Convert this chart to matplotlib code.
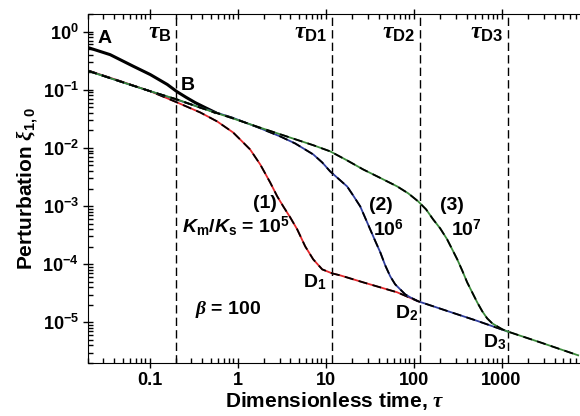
import numpy as np
import matplotlib
matplotlib.use('Agg')
import matplotlib.pyplot as plt
from matplotlib.ticker import LogLocator, FixedLocator, FixedFormatter, NullFormatter

plt.rcParams['font.family'] = ['Liberation Sans', 'DejaVu Sans']
plt.rcParams['font.weight'] = 'bold'
plt.rcParams['mathtext.fontset'] = 'custom'
plt.rcParams['mathtext.rm'] = 'Liberation Sans:bold'
plt.rcParams['mathtext.it'] = 'Liberation Serif:italic'
plt.rcParams['mathtext.bf'] = 'Liberation Sans:bold'
plt.rcParams['mathtext.sf'] = 'Liberation Sans:bold:italic'

# curve A (black, before tau_B)
tau_A = [0.02, 0.0357, 0.0653, 0.102, 0.159, 0.206, 0.26, 0.33, 0.42, 0.55]
xi_A = [0.53, 0.40, 0.253, 0.182, 0.123, 0.092, 0.074, 0.060, 0.050, 0.041]

# (1) Km/Ks = 1e5
tau1 = [0.02, 0.046, 0.102, 0.206, 0.377, 0.588, 0.89, 1.073, 1.39, 1.81, 2.35, 2.83,
        3.31, 3.97, 4.77, 5.88, 7.25, 9.17, 11.9, 14.7, 26.8, 65.3, 113]
xi1 = [0.214, 0.141, 0.094, 0.0603, 0.0406, 0.0284, 0.0184, 0.0139, 0.00939, 0.00519,
       0.00254, 0.00146, 0.000984, 0.000637, 0.000396, 0.000202, 0.000121, 8.14e-5,
       6.95e-5, 6.42e-5, 4.87e-5, 3.28e-5, 2.3e-5]

# (2) Km/Ks = 1e6
tau2 = [0.02, 0.046, 0.102, 0.206, 0.377, 0.89, 1.72, 3.06, 4.52, 7.25, 9.17, 11.3,
        17.6, 20.6, 24.8, 32.2, 36.7, 41.9, 47.7, 54.4, 61.9, 70.6, 80.4, 91.8, 113,
        241, 529, 1159]
xi2 = [0.212, 0.139, 0.094, 0.067, 0.0495, 0.0327, 0.0224, 0.0157, 0.0119, 0.00771,
       0.00561, 0.00393, 0.00217, 0.00152, 0.000984, 0.000396, 0.000251, 0.00016,
       9.53e-5, 6.17e-5, 4.5e-5, 3.69e-5, 3.03e-5, 2.69e-5, 2.3e-5, 1.57e-5, 1.06e-5, 7.0e-6]

# (3) Km/Ks = 1e7
tau3 = [0.02, 0.046, 0.102, 0.206, 0.377, 0.89, 1.72, 3.06, 7.25, 11.3, 17.6, 26.8,
        41.9, 65.3, 87.1, 113, 139, 167, 201, 241, 275, 314, 357, 407, 464, 529, 604,
        687, 784, 893, 1019, 1159, 2750, 7430]
xi3 = [0.21, 0.139, 0.094, 0.068, 0.049, 0.032, 0.0228, 0.0171, 0.0111, 0.0087, 0.00608,
       0.00425, 0.00304, 0.00217, 0.00165, 0.0012, 0.000874, 0.000589, 0.000412,
       0.000267, 0.00018, 0.000121, 7.82e-5, 4.87e-5, 3.28e-5, 2.21e-5, 1.55e-5,
       1.17e-5, 9.61e-6, 8.53e-6, 7.59e-6, 7.0e-6, 4.53e-6, 2.71e-6]

tau_marks = [0.2, 11.7, 117, 1170]
tau_names = [r'$\tau_\mathbf{B}$', r'$\tau_\mathbf{D1}$', r'$\tau_\mathbf{D2}$', r'$\tau_\mathbf{D3}$']

fig = plt.figure(figsize=(5.8, 4.16), dpi=100)
ax = fig.add_axes([88 / 580, 53 / 416, 493 / 580, 349 / 416])
ax.set_xscale('log')
ax.set_yscale('log')
ax.set_xlim(0.02, 8000)
ax.set_ylim(2e-6, 2)

for t in tau_marks:
    ax.axvline(t, color='k', lw=1, ls=(0, (6, 3)))

ax.plot(tau_A, xi_A, color='k', lw=2.2)
for tt, xx, c in [(tau1, xi1, '#e3262a'), (tau2, xi2, '#2e3c9c'), (tau3, xi3, '#3b8a3b')]:
    ax.plot(tt, xx, color=c, lw=1.3)
    ax.plot(tt, xx, color='k', lw=1.3, ls=(0, (5, 3)))

ax.spines['right'].set_visible(False)
ax.xaxis.set_ticks_position('both')
ax.yaxis.set_ticks_position('left')
ax.tick_params(which='major', direction='inout', length=7, width=1, labelsize=13, pad=3)
ax.tick_params(which='minor', direction='in', length=3.5, width=1)
ax.xaxis.set_major_locator(FixedLocator([0.1, 1, 10, 100, 1000]))
ax.xaxis.set_major_formatter(FixedFormatter(['0.1', '1', '10', '100', '1000']))
ax.xaxis.set_minor_locator(LogLocator(base=10, subs=np.arange(2, 10), numticks=20))
ax.xaxis.set_minor_formatter(NullFormatter())
yt = [1e0, 1e-1, 1e-2, 1e-3, 1e-4, 1e-5]
ax.yaxis.set_major_locator(FixedLocator(yt))
ax.yaxis.set_major_formatter(FixedFormatter([r'$\mathbf{10^{0}}$', r'$\mathbf{10^{-1}}$',
                                             r'$\mathbf{10^{-2}}$', r'$\mathbf{10^{-3}}$',
                                             r'$\mathbf{10^{-4}}$', r'$\mathbf{10^{-5}}$']))
ax.yaxis.set_minor_locator(LogLocator(base=10, subs=np.arange(2, 10), numticks=20))
ax.yaxis.set_minor_formatter(NullFormatter())

ax.set_xlabel(r'Dimensionless time, $\tau$', fontsize=15, fontweight='bold', labelpad=1)
ax.set_ylabel(r'Perturbation $\xi_\mathbf{1,0}$', fontsize=15, fontweight='bold', labelpad=2)

# labels for the vertical lines
for t, s in zip(tau_marks, tau_names):
    ax.annotate(s, (t, 0.95), xytext=(-3, 0), textcoords='offset points',
                fontsize=17, ha='right', va='center')

kw = dict(fontsize=14, fontweight='bold', ha='center', va='center')
ax.text(0.0306, 0.758, 'A', **kw)
ax.text(0.272, 0.118, 'B', **kw)
ax.text(2.06, 0.00111, '(1)', **kw)
ax.text(0.955, 0.000446, r'$\mathsf{K}_\mathbf{m}/\mathsf{K}_\mathbf{s}$ = 10$^\mathbf{5}$', **kw)
ax.text(42.9, 0.00102, '(2)', **kw)
ax.text(52.3, 0.000396, r'10$^\mathbf{6}$', **kw)
ax.text(272, 0.00102, '(3)', **kw)
ax.text(397, 0.000396, r'10$^\mathbf{7}$', **kw)
ax.text(7.45, 4.87e-5, r'D$_\mathbf{1}$', **kw)
ax.text(82.6, 1.43e-5, r'D$_\mathbf{2}$', **kw)
ax.text(826, 4.53e-6, r'D$_\mathbf{3}$', **kw)
ax.text(0.794, 1.67e-5, r'$\beta$ = 100', **kw)

fig.savefig('out.png', dpi=100)
